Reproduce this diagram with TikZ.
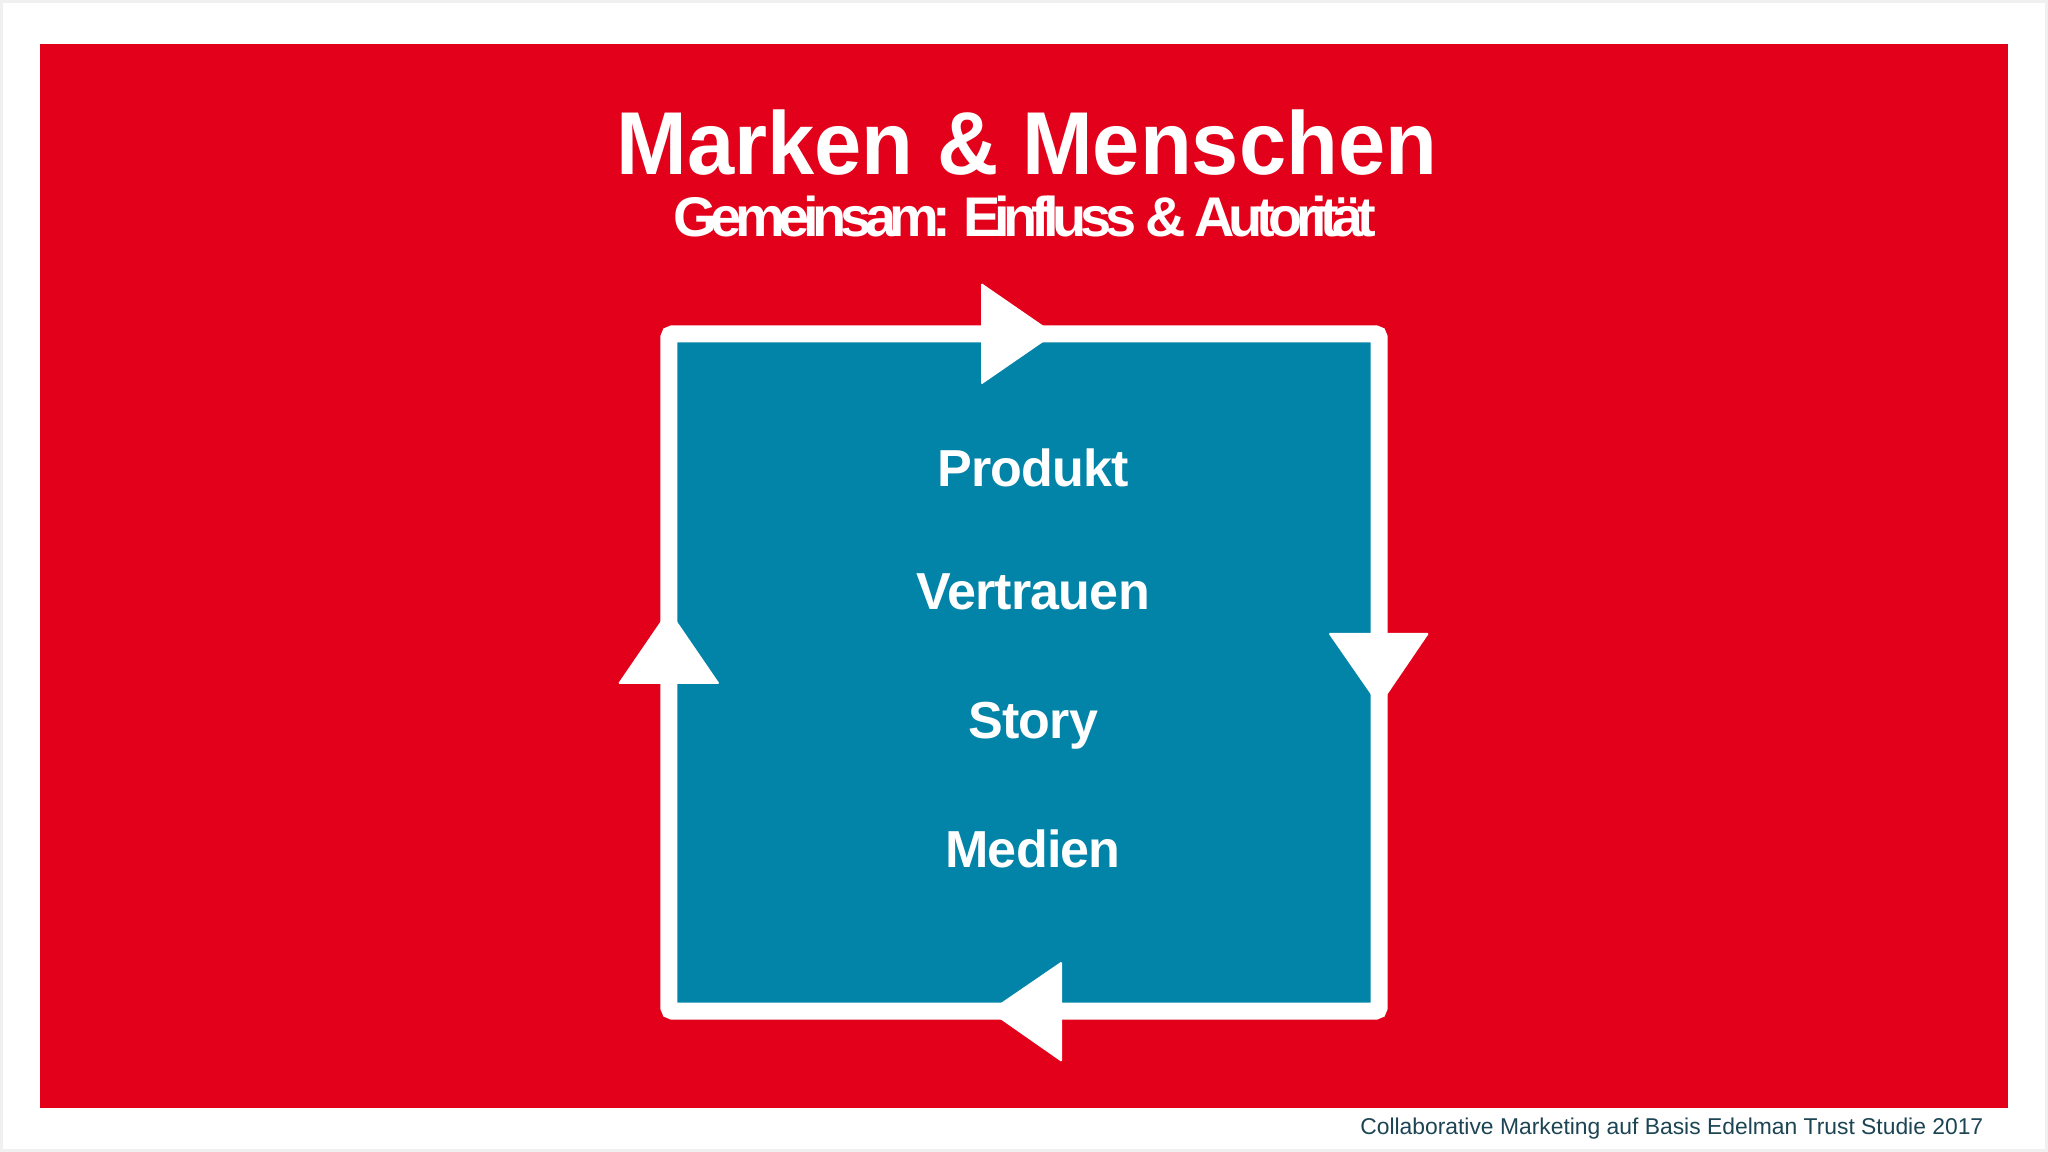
\documentclass[tikz,border=0pt]{standalone}
\usepackage{fontspec}
\setmainfont{Liberation Sans}
\newfontfamily\titlefont{Liberation Sans}[FakeStretch=0.95]
\newfontfamily\subtitlefont{Liberation Sans}[LetterSpace=-11.5]
\newfontfamily\itemfont{Liberation Sans}[LetterSpace=-1.5]
\usetikzlibrary{positioning}
\definecolor{slidered}{HTML}{E2001A}
\definecolor{cycleblue}{HTML}{0284A8}
\definecolor{notegray}{HTML}{1C4452}
\tikzset{
	slide/.style = {fill=slidered},% roter Hintergrund
	cyclebox/.style = {draw=white, fill=cycleblue, line width=0.17cm,
		rounded corners=0.04cm, minimum width=7.1cm, minimum height=6.77cm,
		inner sep=0pt, outer sep=0pt},% Kreislauf, Rahmen
	arrowhead/.style = {fill=white, rounded corners=0.015cm},% Pfeilspitze
	headline/.style = {anchor=base, white, inner sep=0pt},
	item/.style = {anchor=base, white, inner sep=0pt,
		font=\itemfont\bfseries\fontsize{14.8}{16}\selectfont}% Begriff
}

\begin{document}
\begin{tikzpicture}[x=0.01cm, y=0.01cm]
\useasboundingbox (0,0) rectangle (2048,1152);
\draw[gray!12, line width=0.03cm] (1.5,1.5) rectangle (2046.5,1150.5);
\fill[slide] (40,44) rectangle (2008,1108);

\node[headline, font=\titlefont\bfseries\fontsize{25.4}{28}\selectfont] (title) at (1027,977) {Marken \& Menschen};
\node[headline, font=\subtitlefont\bfseries\fontsize{15.9}{18}\selectfont] (subtitle) at (1025,915) {Gemeinsam: Einfluss \& Autorität};

\node[cyclebox] (cycle) at (1024,479.5) {};
\fill[arrowhead] ([shift={(-43,51)}]cycle.north) -- ([shift={(31,0)}]cycle.north) -- ([shift={(-43,-51)}]cycle.north) -- cycle;
\fill[arrowhead] ([shift={(-51,39.5)}]cycle.east) -- ([shift={(50,39.5)}]cycle.east) -- ([shift={(0,-34)}]cycle.east) -- cycle;
\fill[arrowhead] ([shift={(38,50)}]cycle.south) -- ([shift={(-35,0)}]cycle.south) -- ([shift={(38,-51)}]cycle.south) -- cycle;
\fill[arrowhead] ([shift={(-51,-11.5)}]cycle.west) -- ([shift={(0,63)}]cycle.west) -- ([shift={(51,-11.5)}]cycle.west) -- cycle;

\node[item] (produkt) at (1033,665) {Produkt};
\node[item] (vertrauen) at (1033,542) {Vertrauen};
\node[item] (story) at (1033,413) {Story};
\node[item] (medien) at (1033,284) {Medien};

\node[anchor=base east, inner sep=0pt, notegray, font=\fontsize{6.5}{7.5}\selectfont] (source) at (1984,17) {Collaborative Marketing auf Basis Edelman Trust Studie 2017};
\end{tikzpicture}
\end{document}
